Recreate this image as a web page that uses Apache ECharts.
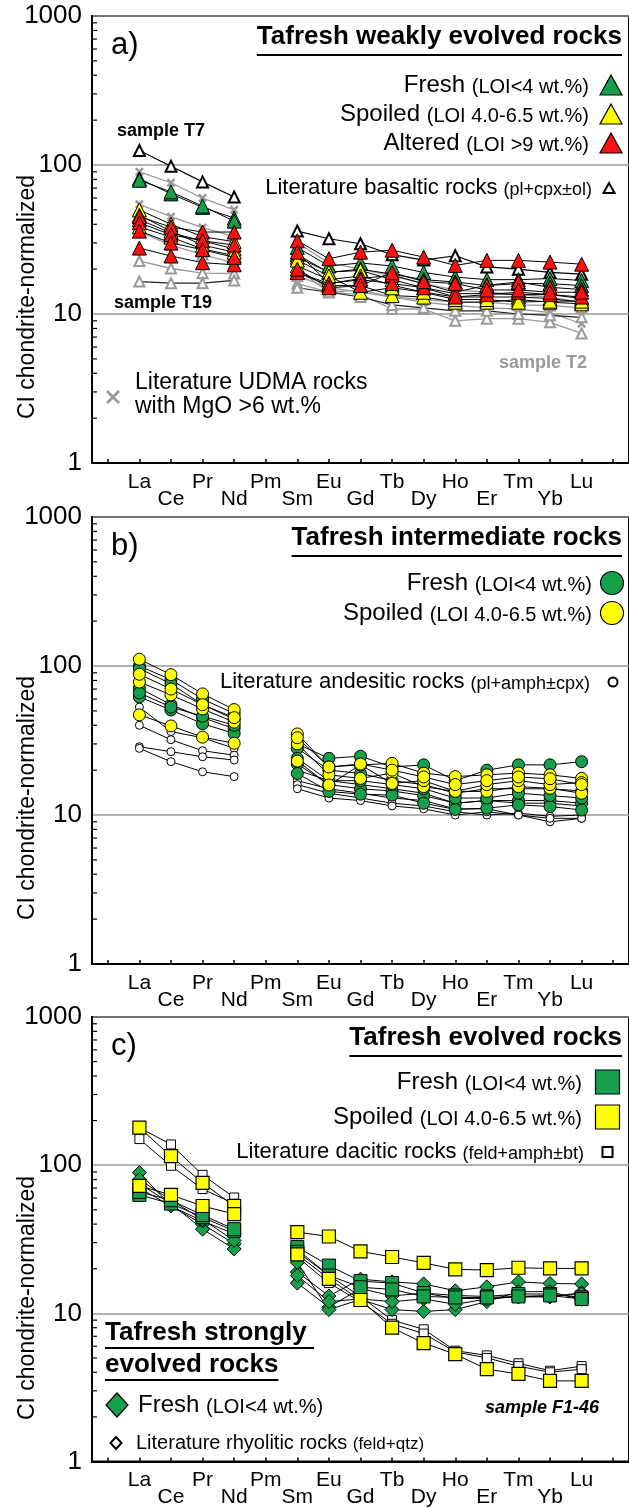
<!DOCTYPE html>
<html>
<head>
<meta charset="utf-8">
<script src="https://cdn.jsdelivr.net/npm/echarts@6/dist/echarts.min.js"></script>
<style>
  html, body { margin: 0; padding: 0; background: #fff; }
  #chart { width: 629px; height: 1508px; }
</style>
</head>
<body>
<div id="chart"></div>
<script>
// Rare earth elements, CI chondrite-normalized (Pm left empty)
const elements = ['La','Ce','Pr','Nd','Pm','Sm','Eu','Gd','Tb','Dy','Ho','Er','Tm','Yb','Lu'];
const yTickLabels = [1, 10, 100, 1000];
const minorTickValues = [2,3,4,5,6,7,8,9,20,30,40,50,60,70,80,90,200,300,400,500,600,700,800,900];

// a) Tafresh weakly evolved rocks
const aFresh = [
  [81, 64, 52, 44, null, 28, 21, 22, 21, 19, 17.7, 17, 17, 17.3, 16.8],
  [79, 66, 53, 42, null, 25, 19, 20, 18.5, 17, 16.4, 15.5, 16, 16, 15.5]
];
const aSpoiled = [
  [50, 40, 33, 30.6, null, 24, 19.1, 19.6, 17, 15, 13.7, 13.7, 13.5, 13.5, 12.7],
  [43, 35, 31, 27.3, null, 21, 17, 18, 15.6, 14, 13, 13, 13, 12.7, 12.0],
  [38.5, 32.8, 27.3, 24.7, null, 19, 15.5, 15.5, 13.3, 13.0, 12.0, 12.0, 12.5, 12.0, 11.7],
  [46, 36, 29, 26, null, 23, 18, 14, 15, 14, 12.5, 12.5, 12.0, 12.2, 12.2]
];
const aAltered = [
  [45, 38.3, 35.5, 35.5, null, 31, 23.5, 26, 26.8, 24.1, 21.2, 22.9, 22.9, 22.3, 21.6],
  [41, 34, 31, 29, null, 26, 16, 17.3, 18.2, 16, 14, 15.6, 16.4, 15.1, 14.6],
  [27.7, 24.5, 22.1, 21.4, null, 19, 16, 17, 16, 15, 13, 13.5, 14, 13.5, 13],
  [36, 30, 27, 24, null, 20, 15, 15.5, 19, 16.5, 16, 14.5, 14.5, 14, 14]
];
// literature basaltic rocks: sample T7, two others, sample T19
const aLitBasaltT7 = [125, 98, 77, 61, null, 36, 32, 29.6, 25, 23, 24.6, 20.7, 20, 19, 18.5];
const aLitBasalt = [
  [35.5, 29, 25, 22, null, 18, 15, 14, 13, 12.5, 12, 12, 11.5, 11.4, 11],
  [22.7, 20.2, 18.8, 18.7, null, 16, 14, 13.5, 10.8, 10.8, 9.0, 9.3, 9.3, 8.8, 7.4]
];
const aLitBasaltT19 = [16.5, 16.1, 16.1, 16.8, null, 15, 14, 13, 11.5, 11, 10.5, 10.5, 10, 9.8, 9.5];
const aLitUdma = [
  [90, 76, 60, 50, null, 30, 22, 20, 18, 16, 14.5, 14, 13.5, 13, 12],
  [54.5, 45, 38, 33, null, 20, 14, 14.5, 13, 12, 11.4, 11, 10.8, 10.2, 8.6]
];

// b) Tafresh intermediate rocks
const bFresh = [
  [100, 81, 60, 48, null, 30, 24, 24.8, 21, 21.7, 17, 20, 21.7, 21.7, 22.8],
  [96, 76, 55, 44, null, 28, 20, 19, 17, 16, 14, 15, 15, 15, 14.5],
  [71, 55, 45, 38, null, 22, 16, 15, 14.5, 13.5, 12, 12.5, 12.5, 12.5, 12],
  [62, 50.7, 41, 35.3, null, 19, 14.4, 13.8, 13.6, 12.0, 10.9, 11.1, 11.7, 11.4, 10.8],
  [66, 53, 46, 40, null, 24, 17, 17, 16, 15, 13, 13, 14, 13.5, 13]
];
const bSpoiled = [
  [111, 87.5, 65, 51, null, 35, 21, 21.7, 22.2, 19.1, 18.1, 18.6, 19.1, 18.6, 17.6],
  [78, 64, 51.5, 42, null, 30, 18.6, 17.6, 19.1, 15.5, 14.4, 14.4, 15.5, 15.1, 14],
  [47, 39.6, 33.3, 30.3, null, 23, 15.9, 21.7, 16.3, 17, 14.4, 16, 17, 16, 16.5],
  [88, 70, 55, 45, null, 33, 21, 22, 20, 18, 16, 17, 18, 17.5, 16]
];
const bLitAndesite = [
  [53, 36.3, 33, 28, null, 20, 17, 16, 15, 14, 12, 12.5, 12, 12, 11.5],
  [40, 32, 27, 25.2, null, 17, 15, 14, 13, 12.5, 11, 11, 10, 9, 9.5],
  [28.7, 26.6, 24.6, 23.4, null, 16, 14, 13, 12, 11.5, 10.5, 10, 10.3, 9.8, 10],
  [28, 22.8, 19.5, 18.1, null, 15, 13, 12.5, 11.5, 11, 10, 10.5, 10, 9.5, 9.5]
];

// c) Tafresh evolved and strongly evolved rocks
const cFresh = [
  [63, 55, 44.5, 36, null, 28, 21, 16.5, 16, 13.7, 13.2, 13, 13.5, 13.5, 12.8],
  [66, 58, 46, 37, null, 26, 18, 15, 14.5, 13, 12.8, 12.8, 13, 13.2, 12.5]
];
const cSpoiled = [
  [179, 115, 76, 53, null, 25, 17.1, 12.3, 8.0, 6.3, 5.3, 4.2, 3.9, 3.5, 3.5],
  [72.5, 63, 53, 46.8, null, 35.3, 33, 26.2, 24, 21.9, 19.8, 19.6, 20.3, 20.1, 20.1]
];
const cLitDacite = [
  [179, 138, 86, 60.5, null, 27, 18, 13, 9.0, 7.8, 5.6, 5.2, 4.6, 4.1, 4.4],
  [150, 99, 69, 55, null, 24, 16, 12, 8.5, 7.3, 5.5, 5.0, 4.4, 4.0, 4.2]
];
const cStrongFresh = [
  [89, 53, 40, 29.5, null, 19, 13.1, 17, 16.3, 15.8, 14.2, 15.1, 16.3, 15.9, 15.8],
  [75, 55, 37, 27.2, null, 16, 11, 14.7, 13.1, 13.7, 12.6, 12.6, 12.9, 12.9, 13.8],
  [70, 53, 42, 34.4, null, 22, 10.6, 12.4, 10.6, 10.3, 10.6, 12, 14, 14, 12.4],
  [80, 58, 43, 31, null, 18, 12, 12.5, 12, 12.5, 11.5, 12.5, 13, 13, 13.5]
];

const FONT = '"Liberation Sans", Arial, sans-serif';
const GREEN = '#17a04c';
const YELLOW = '#ffff00';
const RED = '#ff1010';
const GREY = '#9a9a9a';
const CROSS = 'path://M2,0 L5,3 L8,0 L10,2 L7,5 L10,8 L8,10 L5,7 L2,10 L0,8 L3,5 L0,2 Z';

const panelTops = [16, 517, 1017];
const plotH = 447;
const categories = [''].concat(elements, ['']);

const grids = [], xAxes = [], yAxes = [], series = [];

panelTops.forEach(function (top, i) {
  grids.push({ left: 92, top: top, width: 540.6, height: plotH, show: true,
    borderColor: '#000', borderWidth: 2, backgroundColor: 'transparent' });
  xAxes.push({
    gridIndex: i, type: 'category', data: categories, boundaryGap: true,
    axisLine: { onZero: false, lineStyle: { color: '#000', width: 2 } },
    axisTick: { show: true, inside: true, alignWithLabel: true, length: 4, interval: 0,
      lineStyle: { color: '#000', width: 1.5 } },
    axisLabel: { interval: 0, color: '#000', fontFamily: FONT, fontSize: 21, lineHeight: 17, margin: 10.5,
      formatter: function (v, idx) { return idx % 2 ? v + '\n ' : ' \n' + v; } },
    splitLine: { show: false }
  });
  yAxes.push({
    gridIndex: i, type: 'log', logBase: 10, min: yTickLabels[0], max: yTickLabels[yTickLabels.length - 1],
    axisLine: { show: true, lineStyle: { color: '#000', width: 2 } },
    axisTick: { show: false },
    axisLabel: { color: '#000', fontFamily: FONT, fontSize: 26, margin: 10,
      formatter: function (v) { return String(Math.round(v)); } },
    splitLine: { show: true, lineStyle: { color: '#999', width: 1.5 } }
  });
  // small inward minor ticks on the log axis
  series.push({
    type: 'custom', xAxisIndex: i, yAxisIndex: i, silent: true, z: 6, clip: false,
    data: minorTickValues.map(function (v) { return [0, v]; }),
    renderItem: function (params, api) {
      const p = api.coord([0, api.value(1)]);
      const x0 = params.coordSys.x;
      return { type: 'line', shape: { x1: x0, y1: p[1], x2: x0 + 5, y2: p[1] },
        style: { stroke: '#000', lineWidth: 1.2 } };
    }
  });
});

function pad(vals) { return [null].concat(vals, [null]); }

function addLines(panel, rows, opt) {
  rows.forEach(function (vals) {
    series.push({
      type: 'line', xAxisIndex: panel, yAxisIndex: panel, data: pad(vals),
      connectNulls: false, symbol: opt.symbol, symbolSize: opt.size,
      itemStyle: { color: opt.fill, borderColor: opt.edge, borderWidth: opt.edgeW, opacity: 1 },
      lineStyle: { color: opt.line, width: opt.lineW },
      z: opt.z, silent: true, animation: false, emphasis: { disabled: true }
    });
  });
}

// a)
addLines(0, aLitUdma, { symbol: CROSS, size: 9, fill: GREY, edge: GREY, edgeW: 0, line: GREY, lineW: 1.3, z: 2 });
addLines(0, aLitBasalt, { symbol: 'triangle', size: 10, fill: '#fff', edge: GREY, edgeW: 2, line: GREY, lineW: 1.3, z: 2 });
addLines(0, [aLitBasaltT19], { symbol: 'triangle', size: 10, fill: '#fff', edge: GREY, edgeW: 2, line: '#222', lineW: 1.2, z: 2 });
addLines(0, [aLitBasaltT7], { symbol: 'triangle', size: 11, fill: '#fff', edge: '#000', edgeW: 2, line: '#000', lineW: 1.2, z: 3 });
addLines(0, aFresh, { symbol: 'triangle', size: 14, fill: GREEN, edge: '#000', edgeW: 1, line: '#000', lineW: 1, z: 4 });
addLines(0, aSpoiled, { symbol: 'triangle', size: 14, fill: YELLOW, edge: '#000', edgeW: 1, line: '#000', lineW: 1, z: 4 });
addLines(0, aAltered, { symbol: 'triangle', size: 14, fill: RED, edge: '#000', edgeW: 1, line: '#000', lineW: 1, z: 5 });
// b)
addLines(1, bLitAndesite, { symbol: 'circle', size: 8, fill: '#fff', edge: '#000', edgeW: 1, line: '#000', lineW: 1, z: 2 });
addLines(1, bFresh, { symbol: 'circle', size: 12, fill: GREEN, edge: '#000', edgeW: 1, line: '#000', lineW: 1, z: 4 });
addLines(1, bSpoiled, { symbol: 'circle', size: 12, fill: YELLOW, edge: '#000', edgeW: 1, line: '#000', lineW: 1, z: 5 });
// c)
addLines(2, cLitDacite, { symbol: 'rect', size: 9, fill: '#fff', edge: '#000', edgeW: 1, line: '#000', lineW: 1, z: 2 });
addLines(2, cStrongFresh, { symbol: 'diamond', size: 14, fill: GREEN, edge: '#000', edgeW: 1, line: '#000', lineW: 1, z: 4 });
addLines(2, cFresh, { symbol: 'rect', size: 13, fill: GREEN, edge: '#000', edgeW: 1, line: '#000', lineW: 1, z: 4 });
addLines(2, cSpoiled, { symbol: 'rect', size: 13, fill: YELLOW, edge: '#000', edgeW: 1.2, line: '#000', lineW: 1, z: 5 });

// ---- annotations ----
const measureCtx = document.createElement('canvas').getContext('2d');
function textWidth(str, font) { measureCtx.font = font; return measureCtx.measureText(str).width; }

const graphics = [];
function text(x, y, str, font, align, fill, extra) {
  graphics.push(Object.assign({ type: 'text', x: x, y: y, silent: true, z: 20,
    style: { text: str, font: font, fill: fill || '#000', align: align || 'left', verticalAlign: 'middle' } }, extra || {}));
}
function richText(x, y, parts, align) {
  const rich = {};
  let s = '';
  parts.forEach(function (p, k) {
    rich['t' + k] = { fontSize: p[1], fontFamily: FONT, fontWeight: p[2] || 'normal', fill: '#000',
      lineHeight: p[1], verticalAlign: 'bottom' };
    s += '{t' + k + '|' + p[0] + '}';
  });
  graphics.push({ type: 'text', x: x, y: y, silent: true, z: 20,
    style: { text: s, rich: rich, align: align, verticalAlign: 'middle' } });
}
function hline(x1, x2, y, w) {
  graphics.push({ type: 'line', silent: true, z: 20, shape: { x1: x1, y1: y, x2: x2, y2: y },
    style: { stroke: '#000', lineWidth: w || 2 } });
}
function titleUnderlined(xRight, y, str) {
  const f = 'bold 26px ' + FONT;
  text(xRight, y, str, f, 'right');
  hline(xRight - textWidth(str, f), xRight, y + 18, 2);
}
function tri(cx, cy, w, h, fill, stroke, lw) {
  graphics.push({ type: 'polygon', silent: true, z: 20,
    shape: { points: [[cx, cy - h / 2], [cx + w / 2, cy + h / 2], [cx - w / 2, cy + h / 2]] },
    style: { fill: fill, stroke: stroke, lineWidth: lw } });
}
function circ(cx, cy, r, fill, lw) {
  graphics.push({ type: 'circle', silent: true, z: 20, shape: { cx: cx, cy: cy, r: r },
    style: { fill: fill, stroke: '#000', lineWidth: lw } });
}
function sq(cx, cy, s, fill, lw) {
  graphics.push({ type: 'rect', silent: true, z: 20, shape: { x: cx - s / 2, y: cy - s / 2, width: s, height: s },
    style: { fill: fill, stroke: '#000', lineWidth: lw } });
}
function dia(cx, cy, w, h, fill, lw) {
  graphics.push({ type: 'polygon', silent: true, z: 20,
    shape: { points: [[cx, cy - h / 2], [cx + w / 2, cy], [cx, cy + h / 2], [cx - w / 2, cy]] },
    style: { fill: fill, stroke: '#000', lineWidth: lw } });
}

// y-axis names and panel letters
panelTops.forEach(function (top, i) {
  text(28, top + 281, 'CI chondrite-normalized', '23px ' + FONT, 'center', '#000', { rotation: Math.PI / 2 });
  text(111, top + 29, ['a)', 'b)', 'c)'][i], '31px ' + FONT, 'left');
});

// a) annotations
titleUnderlined(622, panelTops[0] + 21, 'Tafresh weakly evolved rocks');
richText(589, 85, [['Fresh ', 24], ['(LOI<4 wt.%)', 20]], 'right');
richText(589, 114, [['Spoiled ', 24], ['(LOI 4.0-6.5 wt.%)', 20]], 'right');
richText(589, 143, [['Altered ', 24], ['(LOI >9 wt.%)', 20]], 'right');
tri(611, 85, 22, 20, GREEN, '#000', 1.2);
tri(611, 114, 22, 20, YELLOW, '#000', 1.2);
tri(611, 143, 22, 20, RED, '#000', 1.2);
richText(592, 188, [['Literature basaltic rocks ', 22], ['(pl+cpx±ol)', 18]], 'right');
tri(609, 188, 11, 10, '#fff', '#000', 2);
text(161, 131, 'sample T7', 'bold 18px ' + FONT, 'center');
text(163, 303, 'sample T19', 'bold 18px ' + FONT, 'center');
text(543, 363, 'sample T2', 'bold 18px ' + FONT, 'center', GREY);
graphics.push({ type: 'polygon', silent: true, z: 20,
  shape: { points: [[108, 390], [113, 395], [118, 390], [120, 392], [115, 397], [120, 402], [118, 404], [113, 399], [108, 404], [106, 402], [111, 397], [106, 392]] },
  style: { fill: GREY } });
text(135, 383, 'Literature UDMA rocks', '23px ' + FONT, 'left');
text(135, 407, 'with MgO >6 wt.%', '23px ' + FONT, 'left');

// b) annotations
titleUnderlined(622, panelTops[1] + 21, 'Tafresh intermediate rocks');
richText(592, 583, [['Fresh ', 24], ['(LOI<4 wt.%)', 20]], 'right');
richText(592, 613, [['Spoiled ', 24], ['(LOI 4.0-6.5 wt.%)', 20]], 'right');
circ(612, 583, 11.5, GREEN, 1.2);
circ(612, 613, 11.5, YELLOW, 1.2);
richText(590, 682, [['Literature andesitic rocks ', 22], ['(pl+amph±cpx)', 18]], 'right');
circ(613, 682, 4.5, '#fff', 2);

// c) annotations
titleUnderlined(622, panelTops[2] + 21, 'Tafresh evolved rocks');
richText(582, 1082, [['Fresh ', 24], ['(LOI<4 wt.%)', 20]], 'right');
richText(582, 1117, [['Spoiled ', 24], ['(LOI 4.0-6.5 wt.%)', 20]], 'right');
sq(607.5, 1082, 24, GREEN, 1.2);
sq(607.5, 1117, 24, YELLOW, 1.2);
richText(584, 1152, [['Literature dacitic rocks ', 22], ['(feld+amph±bt)', 18]], 'right');
sq(607.5, 1152, 10, '#fff', 2);
(function () {
  const f = 'bold 26px ' + FONT;
  text(105, 1333, 'Tafresh strongly', f, 'left');
  hline(105, 105 + textWidth('Tafresh strongly ', f), 1348, 2);
  text(105, 1365, 'evolved rocks', f, 'left');
  hline(105, 105 + textWidth('evolved rocks', f), 1380, 2);
})();
dia(117, 1405, 22, 24, GREEN, 1.2);
richText(138, 1405, [['Fresh ', 24], ['(LOI<4 wt.%)', 20]], 'left');
dia(116, 1443, 11, 12, '#fff', 2);
richText(136, 1443, [['Literature rhyolitic rocks ', 20], ['(feld+qtz)', 17]], 'left');
text(542, 1408, 'sample F1-46', 'italic bold 18px ' + FONT, 'center');

const chart = echarts.init(document.getElementById('chart'), null, { renderer: 'canvas' });
chart.setOption({
  animation: false,
  backgroundColor: '#fff',
  grid: grids,
  xAxis: xAxes,
  yAxis: yAxes,
  series: series,
  graphic: graphics
});
</script>
</body>
</html>
